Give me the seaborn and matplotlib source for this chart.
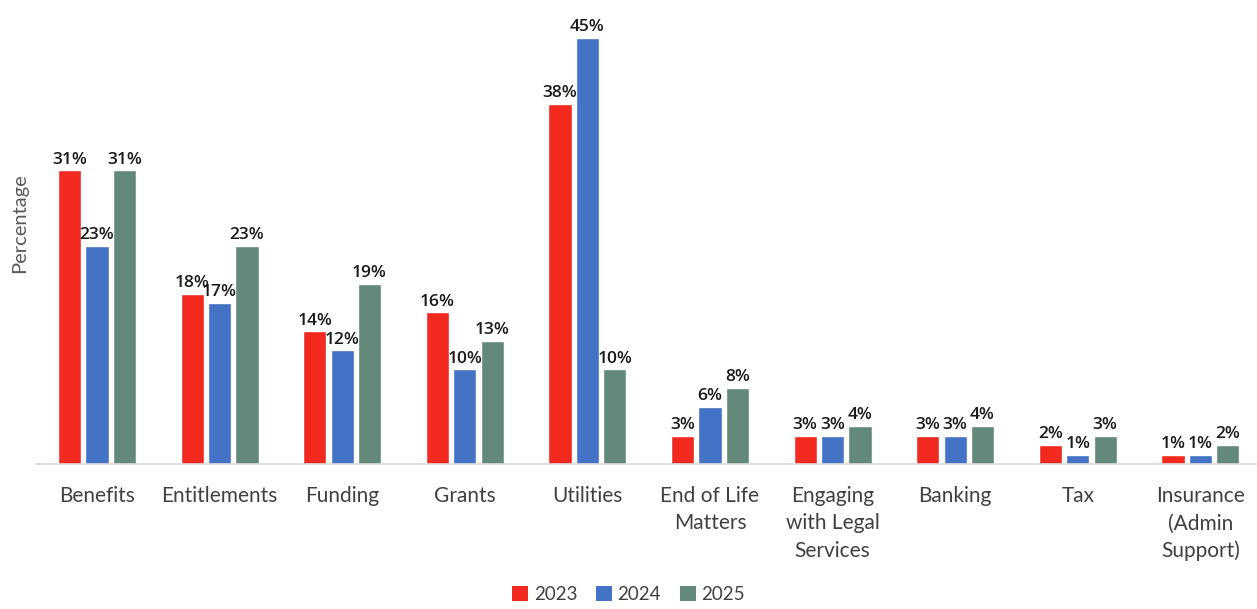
import matplotlib
matplotlib.use("Agg")
import matplotlib.pyplot as plt
import seaborn as sns
import pandas as pd
from matplotlib.patches import Patch

categories = ["Benefits", "Entitlements", "Funding", "Grants", "Utilities",
              "End of Life\nMatters", "Engaging\nwith Legal\nServices",
              "Banking", "Tax", "Insurance\n(Admin\nSupport)"]
years = ["2023", "2024", "2025"]
values_2023 = [31, 18, 14, 16, 38, 3, 3, 3, 2, 1]
values_2024 = [23, 17, 12, 10, 45, 6, 3, 3, 1, 1]
values_2025 = [31, 23, 19, 13, 10, 8, 4, 4, 3, 2]
colors = ["#F2291E", "#4472C4", "#62897A"]

series = {"2023": values_2023, "2024": values_2024, "2025": values_2025}
df = pd.DataFrame([
    {"Category": c, "Year": y, "Value": v}
    for y in years for c, v in zip(categories, series[y])
])

sns.set_theme(style="white")
plt.rcParams["font.family"] = ["Lato", "DejaVu Sans"]

fig = plt.figure(figsize=(12.57, 6.09), dpi=100)
ax = fig.add_axes([0.0284, 0.2381, 0.9753, 0.7619])

sns.barplot(data=df, x="Category", y="Value", hue="Year", order=categories,
            hue_order=years, palette=colors, width=0.67, gap=0.15,
            saturation=1, ax=ax, legend=False)

for cont, y in zip(ax.containers, years):
    ax.bar_label(cont, labels=[f"{v}%" for v in series[y]], padding=2,
                 fontsize=12.5, fontweight="semibold", color="#1a1a1a",
                 family=["Open Sans", "DejaVu Sans"])

ax.set_ylim(0, 49)
ax.set_xlim(-0.5, 9.5)
ax.set_yticks([])
ax.set_xlabel("")
ax.set_ylabel("Percentage", fontsize=14.5, color="#595959")
ax.yaxis.set_label_coords(-0.006, 0.52)
for s in ["top", "right", "left"]:
    ax.spines[s].set_visible(False)
ax.spines["bottom"].set_color("#d9d9d9")
ax.spines["bottom"].set_linewidth(1.2)
ax.tick_params(axis="x", length=0, pad=16, labelsize=15, labelcolor="#404040")
for lbl in ax.get_xticklabels():
    lbl.set_linespacing(1.45)
    lbl.set_verticalalignment("top")

handles = [Patch(facecolor=c, edgecolor="none", label=y) for c, y in zip(colors, years)]
fig.legend(handles=handles, loc="lower center", bbox_to_anchor=(0.5, -0.018),
           ncol=3, frameon=False, fontsize=13.5, handlelength=0.85,
           handleheight=0.85, handletextpad=0.3, columnspacing=1.0,
           labelcolor="#404040")

fig.savefig("out.png", dpi=100)
